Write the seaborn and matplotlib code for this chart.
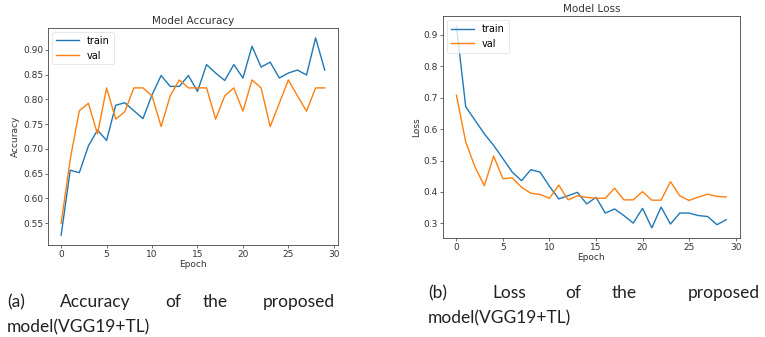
import matplotlib
matplotlib.use('Agg')
from matplotlib import pyplot as plt
import pandas as pd
import seaborn as sns

epochs = list(range(30))

acc_train = [0.526, 0.657, 0.652, 0.706, 0.738, 0.717, 0.788, 0.793, 0.777, 0.761,
             0.809, 0.848, 0.826, 0.826, 0.848, 0.816, 0.870, 0.853, 0.838, 0.870,
             0.843, 0.907, 0.865, 0.875, 0.843, 0.853, 0.859, 0.849, 0.924, 0.859]
acc_val = [0.550, 0.679, 0.777, 0.792, 0.730, 0.823, 0.760, 0.775, 0.823, 0.823,
           0.807, 0.745, 0.807, 0.839, 0.823, 0.823, 0.823, 0.760, 0.807, 0.823,
           0.776, 0.839, 0.823, 0.745, 0.792, 0.839, 0.807, 0.776, 0.823, 0.823]

loss_train = [0.927, 0.671, 0.628, 0.585, 0.548, 0.506, 0.463, 0.436, 0.471, 0.463,
              0.418, 0.378, 0.388, 0.399, 0.362, 0.383, 0.333, 0.346, 0.325, 0.301,
              0.348, 0.286, 0.352, 0.298, 0.333, 0.333, 0.325, 0.322, 0.296, 0.312]
loss_val = [0.708, 0.559, 0.479, 0.420, 0.514, 0.442, 0.445, 0.415, 0.396, 0.392,
            0.380, 0.422, 0.375, 0.388, 0.383, 0.380, 0.380, 0.412, 0.375, 0.375,
            0.401, 0.374, 0.374, 0.433, 0.388, 0.373, 0.384, 0.393, 0.386, 0.384]

series_names = ['train', 'val']
captions = [(['(a)', 'Accuracy', 'of', 'the', 'proposed'], 'model(VGG19+TL)'),
            (['(b)', 'Loss', 'of', 'the', 'proposed'], 'model(VGG19+TL)')]


def long_df(train, val):
    return pd.DataFrame({
        'epoch': epochs * 2,
        'value': train + val,
        'set': [series_names[0]] * len(train) + [series_names[1]] * len(val),
    })


plt.rcParams['font.family'] = ['DejaVu Sans']
fig = plt.figure(figsize=(7.65, 3.37), dpi=100)

ax1 = fig.add_axes([0.0627, 0.273, 0.379, 0.644])
ax2 = fig.add_axes([0.579, 0.294, 0.388, 0.658])

palette = {'train': '#1f77b4', 'val': '#ff7f0e'}
panels = [(ax1, long_df(acc_train, acc_val), 'Model Accuracy', 'Accuracy'),
          (ax2, long_df(loss_train, loss_val), 'Model Loss', 'Loss')]

for ax, df, title, ylabel in panels:
    sns.lineplot(data=df, x='epoch', y='value', hue='set', palette=palette,
                 linewidth=1.0, ax=ax)
    ax.set_title(title, fontsize=7.5, color='#333333', pad=3)
    ax.set_xlabel('Epoch', fontsize=6.5, color='#333333', labelpad=1)
    ax.set_ylabel(ylabel, fontsize=6.5, color='#333333', labelpad=2)
    ax.set_xticks([0, 5, 10, 15, 20, 25, 30])
    ax.tick_params(labelsize=6.5, colors='#333333', length=2, width=0.5, pad=1.5)
    for sp in ax.spines.values():
        sp.set_linewidth(0.6)
        sp.set_color('#444444')
    leg = ax.legend(loc='upper left', fontsize=7, borderaxespad=0.4,
                    handlelength=2.4, frameon=True)
    leg.get_frame().set_linewidth(0.4)

ax1.set_yticks([0.55, 0.60, 0.65, 0.70, 0.75, 0.80, 0.85, 0.90])
ax1.set_yticklabels([f'{v:.2f}' for v in ax1.get_yticks()])
ax2.set_yticks([0.3, 0.4, 0.5, 0.6, 0.7, 0.8, 0.9])

# justified captions under each panel
W, H = 765.0, 337.0
cap_font = dict(family=['Lato', 'DejaVu Sans'], fontsize=12.5, color='#222222',
                va='center')
left_words_x = [7, 60, 165, 203, 335]
right_words_x = [428, 492, 565, 612, 760]
for (words, line2), xs, y1, y2 in [(captions[0], left_words_x, 302, 327),
                                   (captions[1], right_words_x, 293, 318)]:
    for i, (w, x) in enumerate(zip(words, xs)):
        ha = 'right' if i == len(words) - 1 else 'left'
        fig.text(x / W, 1 - y1 / H, w, ha=ha, **cap_font)
    fig.text(xs[0] / W, 1 - y2 / H, line2, ha='left', **cap_font)

fig.savefig('out.png', dpi=100)
